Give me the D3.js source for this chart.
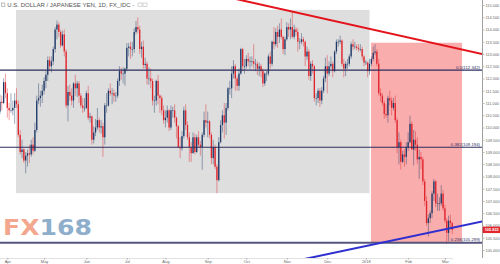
<!DOCTYPE html>
<html>
<head>
<meta charset="utf-8">
<script src="https://cdn.jsdelivr.net/npm/d3@7"></script>
<style>
  html, body { margin: 0; padding: 0; background: #fff; }
  svg { display: block; font-family: "Liberation Sans", Arial, sans-serif; }
</style>
</head>
<body>
<div class="viz"></div>
<script>
// daily USD/JPY bars, one per weekday from firstDay to lastDay
const firstDay = "2017-03-28", lastDay = "2018-03-07";

const monthLabels = ["Apr", "May", "Jun", "Jul", "Aug", "Sep", "Oct", "Nov", "Dec", "2018", "Feb", "Mar"];
const priceTicks = [105, 105.5, 106, 106.5, 107, 107.5, 108, 108.5, 109, 109.5, 110, 110.5,
                    111, 111.5, 112, 112.5, 113, 113.5, 114, 114.5, 115];

const open = [
  110.65,111.05,111.00,111.85,
  111.40,110.80,110.70,110.70,110.80,111.10,110.95,109.70,109.00,109.10,108.65,108.85,108.95,108.90,109.30,109.05,109.90,111.10,111.20,111.30,
  111.50,111.90,112.15,112.75,112.50,112.70,113.20,114.00,114.20,113.90,113.35,113.80,113.10,110.90,111.45,111.30,111.10,111.80,111.60,111.80,111.30,110.90,110.80,
  110.80,111.40,110.40,110.45,109.50,109.80,110.00,110.30,110.00,110.05,109.60,110.90,110.90,111.50,111.40,111.40,111.30,111.30,111.90,112.30,112.20,112.20,
  112.40,113.25,113.30,113.20,113.20,113.90,114.10,114.00,113.20,113.30,112.55,112.60,112.00,112.00,111.90,111.10,111.10,111.90,111.30,111.20,110.70,
  110.30,110.40,110.70,110.00,110.70,110.70,110.40,110.05,109.20,109.15,109.65,110.70,110.10,109.60,109.20,108.95,109.60,109.00,109.60,109.30,109.20,109.70,110.30,
  110.20,110.25,109.70,108.75,109.20,108.40,107.85,109.40,110.10,110.50,110.20,110.80,111.60,111.60,112.20,112.50,112.00,111.70,112.20,113.20,112.50,
  112.50,112.80,112.70,112.70,112.70,112.60,112.60,112.40,112.50,112.30,111.80,112.20,112.20,112.90,112.60,113.50,113.40,113.90,113.70,114.00,113.70,113.20,
  113.60,114.10,114.00,114.10,113.70,114.00,113.90,113.50,113.50,113.60,113.50,112.90,113.10,112.10,112.60,112.50,111.20,111.20,111.50,111.10,111.50,112.00,
  112.50,112.20,112.50,112.60,112.30,113.10,113.50,113.50,113.55,112.60,112.40,112.60,112.60,112.90,113.40,113.30,113.30,113.25,113.20,113.20,112.90,
  112.65,112.65,112.30,112.60,112.80,113.05,113.10,112.60,111.40,111.30,111.00,110.55,110.50,111.20,111.10,110.80,111.00,110.30,109.20,109.40,108.60,108.90,108.80,
  109.20,109.40,110.15,109.10,109.50,109.30,108.70,108.80,108.70,107.80,107.00,106.10,106.30,106.50,107.30,107.80,106.90,106.90,106.90,107.30,
  106.70,106.20,105.70,106.20,106.10
];
const high = [
  111.35,111.30,112.00,112.20,
  111.60,111.00,111.40,111.10,111.40,111.60,111.10,109.90,109.50,109.15,109.00,109.10,109.30,109.50,109.60,110.20,111.30,111.80,111.50,111.75,
  112.05,112.30,112.90,112.90,112.90,113.30,114.10,114.37,114.30,114.00,113.95,114.00,113.20,111.70,111.75,111.60,111.85,112.15,111.90,111.90,111.40,111.20,111.20,
  111.50,111.70,110.60,110.50,110.05,110.35,110.80,110.40,110.30,110.20,111.00,111.40,111.60,111.80,111.60,111.55,111.45,112.00,112.50,112.45,112.45,112.45,
  113.45,113.45,113.50,113.50,114.05,114.35,114.50,114.15,113.50,113.55,112.85,112.70,112.45,112.40,112.00,111.30,111.95,112.15,111.35,111.30,110.90,
  110.70,110.90,110.75,110.90,110.85,110.95,110.45,110.10,109.60,109.85,110.85,110.95,110.25,109.80,109.40,109.80,109.75,109.70,109.85,109.45,109.80,110.65,110.95,
  110.65,110.30,109.80,109.50,109.30,108.50,109.60,110.30,110.70,111.00,111.00,111.65,111.90,112.50,112.75,112.60,112.10,112.40,113.25,113.25,112.80,
  112.95,113.05,112.90,112.90,113.40,112.80,112.70,112.65,112.60,112.40,112.25,112.30,113.00,113.10,113.55,114.10,114.05,114.15,114.25,114.45,113.75,113.70,
  114.30,114.25,114.45,114.73,114.20,114.10,114.05,113.65,113.85,113.70,113.55,113.30,113.20,112.70,112.75,112.55,111.40,111.60,111.60,111.65,112.10,112.85,
  112.95,112.70,112.90,112.70,113.15,113.60,113.60,113.75,113.60,112.80,112.70,112.80,113.00,113.50,113.60,113.50,113.40,113.40,113.40,113.30,112.95,
  112.75,112.70,112.80,112.90,113.30,113.40,113.20,112.80,111.60,111.40,111.10,110.95,111.30,111.50,111.25,111.20,111.30,110.40,109.80,109.50,109.05,109.10,109.40,
  109.80,110.48,110.25,109.90,109.85,109.60,109.10,109.00,108.80,107.90,107.20,106.45,106.60,107.40,107.90,107.85,107.30,107.15,107.65,107.45,
  106.85,106.30,106.40,106.45,106.15
];
const low = [
  110.55,110.70,110.95,111.20,
  110.40,110.30,110.60,110.50,110.15,110.80,109.60,108.90,108.75,108.55,108.13,108.40,108.55,108.80,108.90,109.00,109.80,110.95,110.85,111.00,
  111.35,111.60,111.90,112.30,112.25,112.55,113.05,113.60,113.70,113.25,113.30,112.90,110.80,110.25,111.10,110.90,110.80,111.30,111.25,111.00,110.80,110.60,110.65,
  110.75,110.30,110.20,109.30,109.35,109.65,109.90,109.80,109.75,108.80,109.30,110.60,110.85,111.30,110.95,111.05,111.05,111.20,111.70,111.95,111.80,111.70,
  112.30,112.90,112.80,112.90,113.05,113.80,113.85,113.00,112.85,112.40,112.40,111.75,111.75,111.60,110.90,110.60,110.90,110.95,110.60,110.50,110.15,
  110.00,110.20,109.85,109.90,110.40,110.20,109.55,109.20,108.75,109.05,109.55,109.90,109.50,108.60,108.60,108.95,108.90,108.95,109.20,108.85,108.27,109.60,110.00,
  109.60,109.55,108.50,108.50,108.30,107.32,107.80,109.35,109.80,109.55,109.70,110.70,111.35,111.20,112.00,111.50,111.50,111.50,112.15,112.30,112.20,
  112.40,112.50,112.40,112.50,112.40,112.30,112.15,112.10,112.05,111.65,111.70,111.90,112.10,112.40,112.50,113.20,113.30,113.25,113.45,113.60,113.00,112.95,
  113.55,113.70,113.60,113.65,113.60,113.75,113.10,113.20,113.40,113.30,112.50,112.75,111.95,111.90,112.20,111.05,110.90,111.00,110.84,110.95,111.40,111.85,
  111.40,112.10,112.40,112.05,112.25,113.00,113.30,113.40,112.50,112.05,112.10,112.40,112.50,112.80,113.15,113.20,113.15,113.10,113.10,112.75,112.50,
  112.55,112.05,112.15,112.50,112.70,112.95,112.50,111.30,111.05,110.90,110.35,110.40,110.20,110.90,110.50,110.70,110.20,108.95,108.50,108.28,108.55,108.40,108.50,
  109.05,109.35,109.10,108.45,109.05,108.50,107.90,108.30,107.65,106.80,106.00,105.55,106.10,106.30,107.00,106.75,106.60,106.60,106.80,106.60,
  106.10,105.24,105.35,105.85,105.65
];
const close = [
  111.05,111.00,111.85,111.40,
  110.80,110.70,110.70,110.80,111.10,110.95,109.70,109.00,109.10,108.65,108.85,108.95,108.90,109.30,109.05,109.90,111.10,111.20,111.30,111.50,
  111.90,112.15,112.75,112.50,112.70,113.20,114.00,114.20,113.90,113.35,113.80,113.10,110.90,111.45,111.30,111.10,111.80,111.60,111.80,111.30,110.90,110.80,110.80,
  111.40,110.40,110.45,109.50,109.80,110.00,110.30,110.00,110.05,109.60,110.90,110.90,111.50,111.40,111.40,111.30,111.30,111.90,112.30,112.20,112.20,112.40,
  113.25,113.30,113.20,113.20,113.90,114.10,114.00,113.20,113.30,112.55,112.60,112.00,112.00,111.90,111.10,111.10,111.90,111.30,111.20,110.70,110.30,
  110.40,110.70,110.00,110.70,110.70,110.40,110.05,109.20,109.15,109.65,110.70,110.10,109.60,109.20,108.95,109.60,109.00,109.60,109.30,109.20,109.70,110.30,110.20,
  110.25,109.70,108.75,109.20,108.40,107.85,109.40,110.10,110.50,110.20,110.80,111.60,111.60,112.20,112.50,112.00,111.70,112.20,113.20,112.50,112.50,
  112.80,112.70,112.70,112.70,112.60,112.60,112.40,112.50,112.30,111.80,112.20,112.20,112.90,112.60,113.50,113.40,113.90,113.70,114.00,113.70,113.20,113.60,
  114.10,114.00,114.10,113.70,114.00,113.90,113.50,113.50,113.60,113.50,112.90,113.10,112.10,112.60,112.50,111.20,111.20,111.50,111.10,111.50,112.00,112.50,
  112.20,112.50,112.60,112.30,113.10,113.50,113.50,113.55,112.60,112.40,112.60,112.60,112.90,113.40,113.30,113.30,113.25,113.20,113.20,112.90,112.65,
  112.65,112.30,112.60,112.80,113.05,113.10,112.60,111.40,111.30,111.00,110.55,110.50,111.20,111.10,110.80,111.00,110.30,109.20,109.40,108.60,108.90,108.80,109.20,
  109.40,110.15,109.10,109.50,109.30,108.70,108.80,108.70,107.80,107.00,106.10,106.30,106.50,107.30,107.80,106.90,106.90,106.90,107.30,106.70,
  106.20,105.70,106.20,106.10,105.82
];
const lastPrice = 105.822;

// fibonacci retracement levels
const fibRatio = ["0.5", "0.382", "0.236"];
const fibPrice = [112.342, 109.194, 105.299];

// shaded ranges (bar index from/to, price top/bottom)
const zoneFrom = [8.7, 201.8], zoneTo = [201, 251.3];
const zoneTop = [114.8, 113.46], zoneBottom = [107.32, 105.29];

// trend lines, two anchor points each as [bar index, price]
const resistance = [[159, 114.73], [262, 113.0]];
const support = [[168, 104.67], [262, 106.16]];

var width = 500, height = 264,
    plotRight = 482, plotBottom = 258,
    barStep = 1.8387, firstX = -0.05;

var upColor = "#1f3a68", downColor = "#e0242b";

var parseDay = d3.timeParse("%Y-%m-%d");
var dates = d3.timeDay.range(parseDay(firstDay), d3.timeDay.offset(parseDay(lastDay), 1))
    .filter(d => d.getDay() !== 0 && d.getDay() !== 6);

var bars = close.map((c, i) => ({ i: i, date: dates[i], o: open[i], h: high[i], l: low[i], c: c }));

var x = d3.scaleLinear()
    .domain([0, bars.length - 1])
    .range([firstX, firstX + (bars.length - 1) * barStep]);

var y = d3.scaleLinear()
    .domain([105, 115])
    .range([250, 5]);

var svg = d3.select('.viz').append('svg')
    .attr('width', width)
    .attr('height', height);

svg.append('defs').append('clipPath')
    .attr('id', 'plot-clip')
    .append('rect')
    .attr('x', 0).attr('y', 0)
    .attr('width', plotRight).attr('height', plotBottom);

var plot = svg.append('g').attr('clip-path', 'url(#plot-clip)');

// shaded zones
var zoneFill = ["#dedede", "#f9adad"];
plot.selectAll('rect.zone')
    .data(zoneFrom)
    .enter().append('rect')
    .attr('class', 'zone')
    .attr('x', (d, i) => x(d))
    .attr('width', (d, i) => x(zoneTo[i]) - x(d))
    .attr('y', (d, i) => y(zoneTop[i]))
    .attr('height', (d, i) => y(zoneBottom[i]) - y(zoneTop[i]))
    .attr('fill', (d, i) => zoneFill[i]);

// candles
var candle = plot.append('g').selectAll('g')
    .data(bars)
    .enter().append('g');

candle.append('line')
    .attr('x1', d => x(d.i)).attr('x2', d => x(d.i))
    .attr('y1', d => y(d.h)).attr('y2', d => y(d.l))
    .attr('stroke', d => d.c >= d.o ? upColor : downColor)
    .attr('stroke-opacity', 0.55)
    .attr('stroke-width', 0.8);

candle.append('rect')
    .attr('x', d => x(d.i) - 0.65)
    .attr('width', 1.3)
    .attr('y', d => y(Math.max(d.o, d.c)))
    .attr('height', d => Math.max(0.6, Math.abs(y(d.o) - y(d.c))))
    .attr('fill', d => d.c >= d.o ? upColor : downColor);

// fib lines
var fibStroke = ["#2c2c5c", "#2c2c5c", "#56567e"];
var fibWidth = [1.2, 1.2, 2];
plot.selectAll('line.fib')
    .data(fibPrice)
    .enter().append('line')
    .attr('class', 'fib')
    .attr('x1', 0).attr('x2', plotRight)
    .attr('y1', d => y(d)).attr('y2', d => y(d))
    .attr('stroke', (d, i) => fibStroke[i])
    .attr('stroke-width', (d, i) => fibWidth[i]);

svg.selectAll('text.fib')
    .data(fibPrice)
    .enter().append('text')
    .attr('class', 'fib')
    .attr('x', plotRight - 2)
    .attr('y', d => y(d) - 1.6)
    .attr('text-anchor', 'end')
    .attr('font-size', 4.3)
    .attr('fill', '#2c2c5c')
    .text((d, i) => fibRatio[i] + "(" + d3.format(".3f")(d) + ")");

// trend lines, extended across the plot
function extend(pts) {
    var slope = (pts[1][1] - pts[0][1]) / (pts[1][0] - pts[0][0]);
    return [-20, 280].map(i => [x(i), y(pts[0][1] + (i - pts[0][0]) * slope)]);
}
var line = d3.line();

plot.append('path')
    .attr('d', line(extend(resistance)))
    .attr('stroke', '#e3141b')
    .attr('stroke-width', 2)
    .attr('fill', 'none');

plot.append('path')
    .attr('d', line(extend(support)))
    .attr('stroke', '#2f2fd0')
    .attr('stroke-width', 2)
    .attr('fill', 'none');

// right price axis
svg.append('line')
    .attr('x1', plotRight + 0.5).attr('x2', plotRight + 0.5)
    .attr('y1', 0).attr('y2', plotBottom)
    .attr('stroke', '#a0a0a0')
    .attr('stroke-width', 1);

var yAxis = svg.append('g')
    .attr('transform', 'translate(' + (plotRight + 0.5) + ',0)')
    .call(d3.axisRight(y).tickValues(priceTicks).tickFormat(d3.format('.3f')).tickSize(2).tickPadding(1));
yAxis.select('.domain').remove();
yAxis.selectAll('line').attr('stroke', '#bbb');
yAxis.selectAll('text').attr('font-size', 3.9).attr('fill', '#666').attr('font-family', '"Liberation Sans", Arial, sans-serif');

// bottom time axis: first bar of each month
var monthStarts = bars.filter((d, i) => i > 0 && d.date.getMonth() !== bars[i - 1].date.getMonth()).map(d => d.i);

var xAxis = svg.append('g')
    .attr('transform', 'translate(0,' + plotBottom + ')')
    .call(d3.axisBottom(x).tickValues(monthStarts).tickFormat((d, i) => monthLabels[i]).tickSize(1.5).tickPadding(1));
xAxis.select('.domain').attr('stroke', '#e2e2e2');
xAxis.selectAll('line').attr('stroke', '#aaa');
xAxis.selectAll('text').attr('font-size', 4).attr('fill', '#666').attr('font-family', '"Liberation Sans", Arial, sans-serif');

// last price tag
var tag = svg.append('g').attr('transform', 'translate(' + (plotRight + 0.7) + ',' + y(lastPrice) + ')');
tag.append('rect')
    .attr('x', 0).attr('y', -3.2)
    .attr('width', width - plotRight).attr('height', 6.4)
    .attr('fill', '#e3262c');
tag.append('text')
    .attr('x', (width - plotRight) / 2).attr('y', 1.4)
    .attr('text-anchor', 'middle')
    .attr('font-size', 3.9)
    .attr('font-weight', 'bold')
    .attr('fill', '#fff')
    .text(d3.format('.3f')(lastPrice));

// title
svg.append('rect')
    .attr('x', 1.5).attr('y', 3).attr('width', 3.4).attr('height', 3.4)
    .attr('fill', 'none').attr('stroke', '#999').attr('stroke-width', 0.6);
svg.append('text')
    .attr('x', 7.3).attr('y', 6.6)
    .attr('font-size', 4.6)
    .attr('fill', '#555')
    .attr('textLength', 127)
    .attr('lengthAdjust', 'spacingAndGlyphs')
    .text('U.S. DOLLAR / JAPANESE YEN, 1D, FX_IDC  -');
[138, 143].forEach(function(bx) {
    svg.append('rect')
        .attr('x', bx).attr('y', 3).attr('width', 4).attr('height', 3.4)
        .attr('fill', 'none').attr('stroke', '#bbb').attr('stroke-width', 0.6);
});

// watermark logo
var logo = svg.append('text')
    .attr('x', 3).attr('y', 235)
    .attr('font-family', '"DejaVu Sans", sans-serif')
    .attr('font-weight', 'bold')
    .attr('font-size', 20.5)
    .attr('textLength', 89)
    .attr('lengthAdjust', 'spacingAndGlyphs');
logo.append('tspan').attr('fill', '#f2a78e').text('FX');
logo.append('tspan').attr('fill', '#8eaecb').text('168');
</script>
</body>
</html>
